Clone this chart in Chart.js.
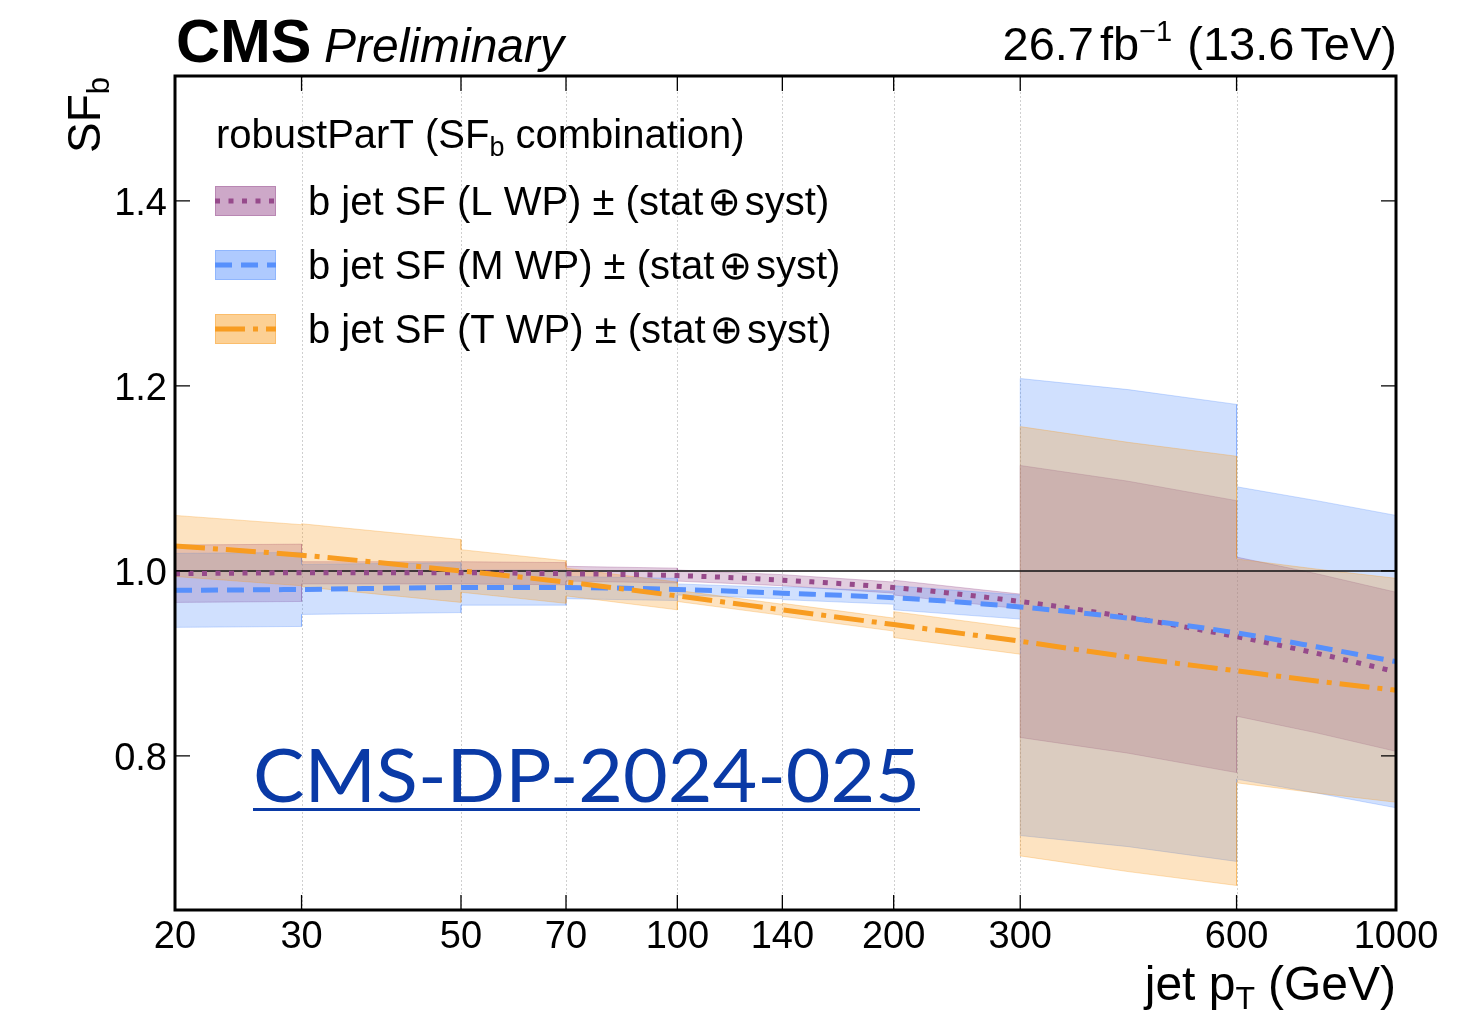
<!DOCTYPE html>
<html lang="en">
<head>
<meta charset="UTF-8">
<title>robustParT b jet SF</title>
<script src="https://cdn.jsdelivr.net/npm/chart.js"></script>
<style>
  html, body { margin: 0; padding: 0; background: #fff; }
  #wrap { width: 1480px; height: 1011px; }
</style>
</head>
<body>
<div id="wrap"><canvas id="sf-chart" width="1480" height="1011"></canvas></div>
<script>
// pT points where the fitted SF curves are sampled (GeV)
const ptPoints = [20, 30, 50, 70, 100, 140, 200, 300, 424, 600, 775, 1000];
const sfLoose  = [0.997, 0.998, 0.998, 0.997, 0.995, 0.990, 0.982, 0.967, 0.950, 0.929, 0.911, 0.891];
const sfMedium = [0.979, 0.980, 0.982, 0.982, 0.980, 0.976, 0.971, 0.961, 0.949, 0.933, 0.918, 0.902];
const sfTight  = [1.027, 1.017, 1.000, 0.988, 0.973, 0.958, 0.942, 0.924, 0.907, 0.892, 0.881, 0.871];

// pT bins and the (stat + syst) half width of each band per bin
const binEdges  = [20, 30, 50, 70, 100, 140, 200, 300, 600, 1000];
const uncLoose  = [0.031, 0.012, 0.012, 0.008, 0.006, 0.006, 0.008, 0.147, 0.086];
const uncMedium = [0.040, 0.027, 0.019, 0.012, 0.006, 0.007, 0.013, 0.247, 0.158];
const uncTight  = [0.033, 0.034, 0.023, 0.015, 0.006, 0.007, 0.014, 0.232, 0.121];

const xTicks = [20, 30, 50, 70, 100, 140, 200, 300, 600, 1000];
const yTicks = [0.8, 1.0, 1.2, 1.4];
const refLevel = 1.0;

const SANS = '"Liberation Sans", Arial, Helvetica, sans-serif';

const wps = [
    { label: 'L', sf: sfLoose,  unc: uncLoose,  rgb: '150,74,139', dash: [5, 8.5] },
    { label: 'M', sf: sfMedium, unc: uncMedium, rgb: '87,144,252', dash: [17, 9] },
    { label: 'T', sf: sfTight,  unc: uncTight,  rgb: '248,156,32', dash: [30, 8, 5, 8] }
];

// closed outline of a band: upper edge left->right, lower edge back
function bandShape(sf, unc) {
    const upper = [], lower = [];
    for (let b = 0; b < binEdges.length - 1; b++) {
        ptPoints.forEach((pt, i) => {
            if (pt >= binEdges[b] && pt <= binEdges[b + 1]) {
                upper.push({ x: pt, y: sf[i] + unc[b] });
                lower.push({ x: pt, y: sf[i] - unc[b] });
            }
        });
    }
    return upper.concat(lower.reverse());
}

const datasets = [];
wps.forEach((wp, k) => {
    datasets.push({
        data: bandShape(wp.sf, wp.unc),
        fill: 'shape',
        backgroundColor: `rgba(${wp.rgb},0.28)`,
        borderColor: `rgba(${wp.rgb},0.3)`,
        borderWidth: 1,
        pointRadius: 0,
        order: 30 - k
    });
});
datasets.push({
    data: [{ x: xTicks[0], y: refLevel }, { x: xTicks[xTicks.length - 1], y: refLevel }],
    borderColor: '#111',
    borderWidth: 1.6,
    pointRadius: 0,
    fill: false,
    order: 10
});
wps.forEach((wp, k) => {
    datasets.push({
        data: ptPoints.map((pt, i) => ({ x: pt, y: wp.sf[i] })),
        borderColor: `rgb(${wp.rgb})`,
        borderWidth: 5,
        borderDash: wp.dash,
        borderCapStyle: 'butt',
        cubicInterpolationMode: 'monotone',
        pointRadius: 0,
        fill: false,
        order: 3 - k
    });
});

// draw a run of text pieces (sub/superscripts) from one anchor
function richText(ctx, parts, x, y, align) {
    let w = 0;
    parts.forEach(p => {
        ctx.font = `${p.style || ''} ${p.size}px ${p.family || SANS}`;
        p.w = ctx.measureText(p.t).width;
        w += p.w + (p.gap || 0);
    });
    let cx = align === 'right' ? x - w : x;
    ctx.textAlign = 'left';
    parts.forEach(p => {
        ctx.font = `${p.style || ''} ${p.size}px ${p.family || SANS}`;
        ctx.fillText(p.t, cx, y + (p.dy || 0));
        cx += p.w + (p.gap || 0);
    });
}

const gridPlugin = {
    id: 'grid',
    beforeDatasetsDraw(chart) {
        const { ctx, chartArea: a, scales } = chart;
        ctx.save();
        ctx.strokeStyle = '#cfcfcf';
        ctx.lineWidth = 1;
        ctx.setLineDash([2, 2]);
        xTicks.slice(1, -1).forEach(v => {
            const px = Math.round(scales.x.getPixelForValue(v)) + 0.5;
            ctx.beginPath();
            ctx.moveTo(px, a.top);
            ctx.lineTo(px, a.bottom);
            ctx.stroke();
        });
        ctx.restore();
    }
};

const decorPlugin = {
    id: 'decor',
    afterDraw(chart) {
        const { ctx, chartArea: a, scales } = chart;
        ctx.save();
        ctx.fillStyle = '#000';
        ctx.strokeStyle = '#000';

        // frame
        ctx.lineWidth = 3;
        ctx.strokeRect(a.left, a.top, a.right - a.left, a.bottom - a.top);

        // inward ticks and labels
        ctx.lineWidth = 1.3;
        const tl = 15;
        ctx.font = `38px ${SANS}`;
        ctx.textAlign = 'center';
        xTicks.forEach(v => {
            const px = scales.x.getPixelForValue(v);
            ctx.beginPath();
            ctx.moveTo(px, a.bottom); ctx.lineTo(px, a.bottom - tl);
            ctx.moveTo(px, a.top); ctx.lineTo(px, a.top + tl);
            ctx.stroke();
            ctx.fillText(String(v), px, 948);
        });
        ctx.textAlign = 'right';
        yTicks.forEach(v => {
            const py = scales.y.getPixelForValue(v);
            ctx.beginPath();
            ctx.moveTo(a.left, py); ctx.lineTo(a.left + tl, py);
            ctx.moveTo(a.right, py); ctx.lineTo(a.right - tl, py);
            ctx.stroke();
            ctx.fillText(v.toFixed(1), 167, py + 14);
        });

        // header
        ctx.textAlign = 'left';
        ctx.font = `bold 61px ${SANS}`;
        ctx.fillText('CMS', 176, 62);
        ctx.font = `italic 48px ${SANS}`;
        ctx.fillText('Preliminary', 324, 62);
        richText(ctx, [
            { t: '26.7', size: 47, gap: 6 },
            { t: 'fb', size: 47 },
            { t: '\u22121', size: 29, dy: -19, gap: 15 },
            { t: '(13.6', size: 47, gap: 6 },
            { t: 'TeV)', size: 47 }
        ], 1397, 60, 'right');

        // axis titles
        richText(ctx, [
            { t: 'jet p', size: 48 },
            { t: 'T', size: 32, dy: 9, gap: 13 },
            { t: '(GeV)', size: 48 }
        ], 1396, 1000, 'right');
        ctx.save();
        ctx.translate(100, 76);
        ctx.rotate(-Math.PI / 2);
        richText(ctx, [
            { t: 'SF', size: 46 },
            { t: 'b', size: 31, dy: 9 }
        ], -1, 0, 'right');
        ctx.restore();

        // legend
        richText(ctx, [
            { t: 'robustParT (SF', size: 40 },
            { t: 'b', size: 27, dy: 8 },
            { t: ' combination)', size: 40 }
        ], 216, 148, 'left');
        const rowY = [201, 265, 329];
        wps.forEach((wp, k) => {
            const y = rowY[k];
            ctx.fillStyle = `rgba(${wp.rgb},0.48)`;
            ctx.fillRect(215, y - 15, 61, 30);
            ctx.strokeStyle = `rgba(${wp.rgb},0.35)`;
            ctx.lineWidth = 1;
            ctx.setLineDash([]);
            ctx.strokeRect(215.5, y - 14.5, 60, 29);
            ctx.strokeStyle = `rgb(${wp.rgb})`;
            ctx.lineWidth = 5;
            ctx.lineCap = 'butt';
            ctx.setLineDash(wp.dash);
            ctx.beginPath();
            ctx.moveTo(215, y); ctx.lineTo(276, y);
            ctx.stroke();
            ctx.setLineDash([]);
            ctx.fillStyle = '#000';
            richText(ctx, [
                { t: `b jet SF (${wp.label} WP) \u00b1 (stat`, size: 40, gap: 4 },
                { t: '\u2295', size: 40, family: '"DejaVu Sans", sans-serif', gap: 4 },
                { t: 'syst)', size: 40 }
            ], 308, y + 14, 'left');
        });

        // document reference
        ctx.fillStyle = '#0a3aa6';
        ctx.font = '74px Lato, "Open Sans", sans-serif';
        const ref = 'CMS-DP-2024-025';
        const rw = ctx.measureText(ref).width;
        ctx.save();
        ctx.translate(253, 802);
        ctx.scale(667 / rw, 1);
        ctx.fillText(ref, 0, 0);
        ctx.restore();
        ctx.fillRect(253, 808, 667, 3);

        ctx.restore();
    }
};

new Chart(document.getElementById('sf-chart'), {
    type: 'line',
    data: { datasets },
    options: {
        responsive: false,
        animation: false,
        devicePixelRatio: 1,
        layout: { padding: { left: 175, top: 76, right: 84, bottom: 101 } },
        scales: {
            x: { type: 'logarithmic', min: 20, max: 1000, display: false },
            y: { type: 'linear', min: 0.6335, max: 1.535, display: false }
        },
        plugins: {
            legend: { display: false },
            tooltip: { enabled: false }
        }
    },
    plugins: [gridPlugin, decorPlugin]
});
</script>
</body>
</html>
